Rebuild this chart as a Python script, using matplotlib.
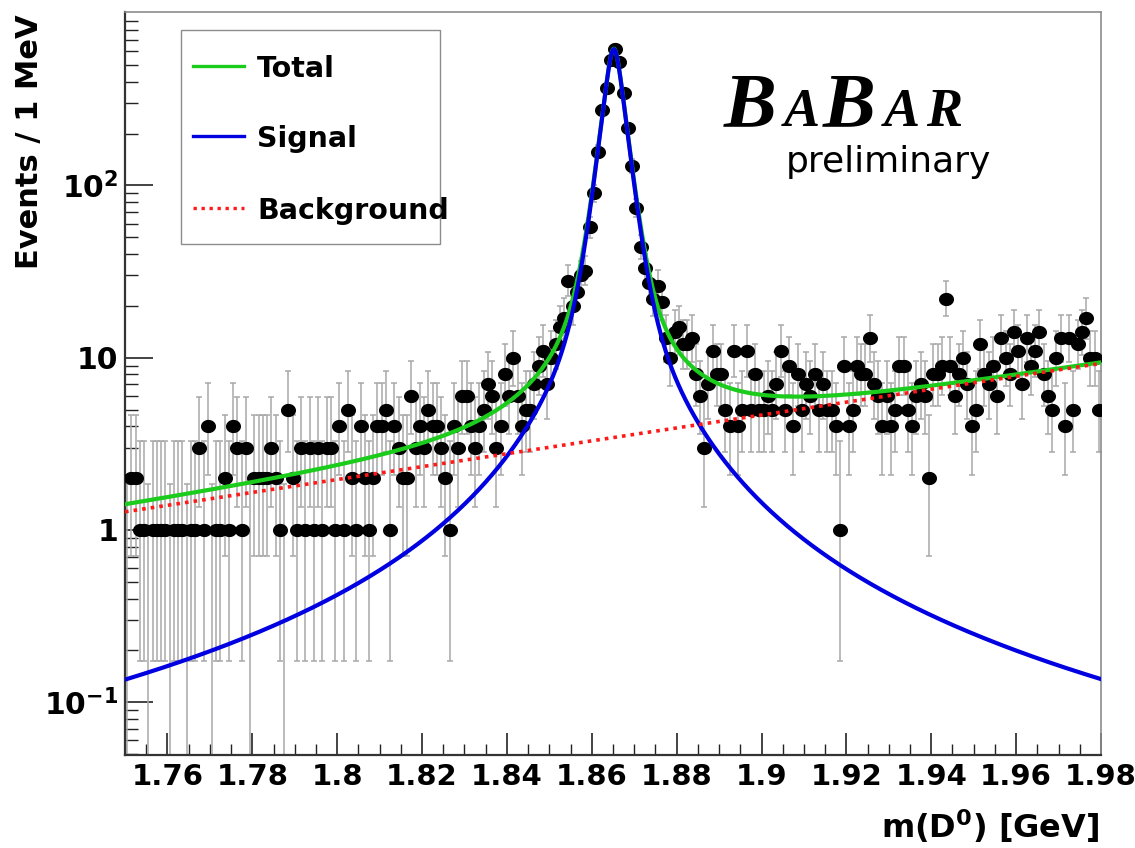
"""
plot.py
-------
BaBar preliminary m(D0) spectrum (1 MeV bins, log scale) with the
total / signal / background fit components overlaid.
"""

import math

import matplotlib
matplotlib.use("Agg")
import matplotlib.pyplot as plt
import numpy as np
from matplotlib.lines import Line2D
from matplotlib.patches import Rectangle
from matplotlib.path import Path
from matplotlib.ticker import FixedLocator, LogLocator, MultipleLocator, NullFormatter

plt.rcParams["font.family"] = ["DejaVu Sans"]
plt.rcParams["mathtext.fontset"] = "dejavusans"
plt.rcParams["mathtext.default"] = "bf"

# histogram: 1 MeV bins starting at 1.75 GeV
bin_lo = 1.75
bin_width = 0.001
counts = [
    0, 2, 2, 1, 1, 0, 1, 1, 1, 1,        # 1.750
    0, 1, 1, 1, 0, 1, 1, 3, 1, 4,        # 1.760
    0, 1, 1, 2, 1, 4, 3, 1, 3, 0,        # 1.770
    2, 2, 2, 2, 3, 2, 1, 0, 5, 2,        # 1.780
    1, 3, 1, 3, 1, 3, 1, 3, 3, 1,        # 1.790
    4, 1, 5, 2, 1, 4, 2, 1, 2, 4,        # 1.800
    4, 5, 1, 4, 3, 2, 2, 6, 3, 4,        # 1.810
    3, 5, 4, 4, 3, 2, 1, 4, 3, 6,        # 1.820
    6, 4, 3, 4, 5, 7, 6, 3, 4, 8,        # 1.830
    6, 10, 6, 4, 5, 5, 7, 9, 11, 7,      # 1.840
    10, 12, 15, 17, 28, 20, 24, 30, 32, 57,        # 1.850
    90, 157, 274, 366, 532, 622, 521, 342, 215, 129,  # 1.860
    74, 44, 33, 27, 22, 26, 21, 13, 10, 14,        # 1.870
    15, 12, 12, 13, 8, 6, 3, 7, 11, 8,   # 1.880
    8, 5, 4, 11, 4, 5, 11, 5, 8, 5,      # 1.890
    5, 6, 5, 7, 11, 5, 9, 4, 8, 5,       # 1.900
    7, 6, 8, 5, 7, 5, 5, 4, 1, 9,        # 1.910
    4, 5, 9, 8, 8, 13, 7, 6, 4, 6,       # 1.920
    4, 5, 9, 9, 5, 4, 6, 7, 6, 2,        # 1.930
    8, 8, 9, 22, 9, 6, 8, 10, 7, 4,      # 1.940
    5, 12, 8, 7, 9, 6, 13, 10, 8, 14,    # 1.950
    11, 7, 13, 9, 11, 14, 8, 6, 5, 10,   # 1.960
    13, 4, 13, 5, 12, 14, 17, 10, 10, 5, # 1.970
]

xticks = [1.76, 1.78, 1.80, 1.82, 1.84, 1.86, 1.88, 1.90, 1.92, 1.94, 1.96, 1.98]
xtick_labels = ["1.76", "1.78", "1.8", "1.82", "1.84", "1.86",
                "1.88", "1.9", "1.92", "1.94", "1.96", "1.98"]
yticks = [0.1, 1, 10, 100]
ytick_labels = ["10$^{-1}$", "1", "10", "10$^{2}$"]
legend_labels = ["Total", "Signal", "Background"]

# fit result
sig_mean = 1.8652
sig_core_amp, sig_core_round, sig_core_slope = 568.0, 0.0012, 0.0018
sig_tail_norm, sig_tail_gamma = 0.0018, 0.006
bkg_at_lo, bkg_slope = 1.275, 8.62

GREEN = "#1ccc1c"
BLUE = "#0000e0"
RED = "#ff1a1a"
BAR_GREY = "#a8a8a8"

FIG_W, FIG_H = 1135, 848
AX_L, AX_R, AX_T, AX_B = 125, 1101, 12, 755


def signal(m):
    d = m - sig_mean
    core = np.sqrt(d**2 + sig_core_round**2) - sig_core_round
    return (sig_core_amp * np.exp(-core / sig_core_slope)
            + sig_tail_norm / (d**2 + sig_tail_gamma**2))


def background(m):
    return bkg_at_lo * np.exp(bkg_slope * (m - bin_lo))


def poisson_cdf(k, mu):
    if k < 0:
        return 0.0
    if mu <= 0:
        return 1.0
    return sum(math.exp(j * math.log(mu) - mu - math.lgamma(j + 1)) for j in range(k + 1))


def bisect(f, target, lo, hi):
    # f is decreasing in mu
    for _ in range(60):
        mid = 0.5 * (lo + hi)
        if f(mid) > target:
            lo = mid
        else:
            hi = mid
    return 0.5 * (lo + hi)


def garwood(n, cl=0.6827):
    """Central Poisson interval (lower, upper) for n observed events."""
    a = (1 - cl) / 2
    hi_lim = n + 10 * math.sqrt(n + 1) + 10
    up = bisect(lambda mu: poisson_cdf(n, mu), a, 0.0, hi_lim)
    lo = 0.0 if n == 0 else bisect(lambda mu: poisson_cdf(n - 1, mu), 1 - a, 0.0, hi_lim)
    return lo, up


def fig_xy(px, py):
    return px / FIG_W, 1 - py / FIG_H


counts = np.array(counts)
centers = bin_lo + bin_width * (np.arange(len(counts)) + 0.5)
intervals = np.array([garwood(int(n)) for n in counts])

fig = plt.figure(figsize=(FIG_W / 100, FIG_H / 100), dpi=100)
ax = fig.add_axes([AX_L / FIG_W, 1 - AX_B / FIG_H,
                   (AX_R - AX_L) / FIG_W, (AX_B - AX_T) / FIG_H])
ax.set_yscale("log")
ax.set_xlim(1.75, 1.98)
ax.set_ylim(0.0494, 1015)

# error bars (empty bins: bar from the floor up to the upper limit)
filled = counts > 0
ax.errorbar(centers[filled], counts[filled],
            yerr=[counts[filled] - intervals[filled, 0], intervals[filled, 1] - counts[filled]],
            fmt="none", ecolor=BAR_GREY, elinewidth=1.1, capsize=2.5, capthick=1.1, zorder=2)
empty = ~filled
ax.errorbar(centers[empty], np.full(empty.sum(), 1e-3),
            yerr=[np.zeros(empty.sum()), intervals[empty, 1] - 1e-3],
            fmt="none", ecolor=BAR_GREY, elinewidth=1.1, capsize=2.5, capthick=1.1, zorder=2)

# slightly wide oval markers like the original
t = np.linspace(0, 2 * np.pi, 41)
oval = Path(np.column_stack([1.15 * np.cos(t), np.sin(t)]), closed=True)
ax.plot(centers[filled], counts[filled], linestyle="none", marker=oval,
        ms=9.8, color="black", zorder=3)

m = np.linspace(1.75, 1.98, 4000)
ax.plot(m, signal(m) + background(m), color=GREEN, lw=3.0, zorder=4)
ax.plot(m, signal(m), color=BLUE, lw=3.0, zorder=5)
ax.plot(m, background(m), color=RED, lw=2.6, linestyle=(0, (1, 1.4)), zorder=6)

# axes styling (ROOT look)
ax.xaxis.set_major_locator(FixedLocator(xticks))
ax.set_xticklabels(xtick_labels)
ax.xaxis.set_minor_locator(MultipleLocator(0.005))
ax.yaxis.set_major_locator(FixedLocator(yticks))
ax.set_yticklabels(ytick_labels)
ax.yaxis.set_minor_locator(LogLocator(base=10, subs=np.arange(2, 10), numticks=20))
ax.yaxis.set_minor_formatter(NullFormatter())
ax.tick_params(which="both", direction="in", top=False, right=False, colors="#222222")
ax.tick_params(axis="x", which="major", length=16, width=1.2, pad=6, labelsize=21)
ax.tick_params(axis="x", which="minor", length=8, width=1.0)
ax.tick_params(axis="y", which="major", length=20, width=1.2, pad=5, labelsize=21.5)
ax.tick_params(axis="y", which="minor", length=9, width=1.0)
for lab in ax.get_xticklabels() + ax.get_yticklabels():
    lab.set_fontweight("bold")
    lab.set_color("black")
for side in ("left", "bottom"):
    ax.spines[side].set_color("#333333")
    ax.spines[side].set_linewidth(1.6)
for side in ("top", "right"):
    ax.spines[side].set_color("#8c8c8c")
    ax.spines[side].set_linewidth(1.2)

fig.text(*fig_xy(30, 14), "Events / 1 MeV", rotation=90, ha="center", va="top",
         fontsize=22, fontweight="bold")
fig.text(*fig_xy(1099, 838), "m(D$^{0}$) [GeV]", ha="right", va="baseline",
         fontsize=23, fontweight="bold")

# legend box drawn by hand to match the original placement
fig.patches.append(Rectangle(fig_xy(181, 244), (440 - 181) / FIG_W, (244 - 30) / FIG_H,
                             transform=fig.transFigure, facecolor="white",
                             edgecolor="#8c8c8c", linewidth=1.0, zorder=7))
legend_styles = [
    dict(color=GREEN, lw=2.4, linestyle="-"),
    dict(color=BLUE, lw=2.4, linestyle="-"),
    dict(color=RED, lw=2.4, linestyle=(0, (1, 1.4))),
]
for row_y, label, style in zip([66, 136, 208], legend_labels, legend_styles):
    x0, y0 = fig_xy(193, row_y)
    x1, _ = fig_xy(244, row_y)
    fig.lines.append(Line2D([x0, x1], [y0, y0], transform=fig.transFigure, zorder=8, **style))
    fig.text(*fig_xy(257, row_y), label, ha="left", va="center_baseline",
             fontsize=20.5, fontweight="bold", zorder=8)

# experiment logo, letters placed one by one
logo_font = dict(family="Liberation Serif", style="italic", fontweight="bold", va="baseline")
for px, letter, size in [(724, "B", 57), (784, "A", 39), (823, "B", 57),
                         (884, "A", 39), (926, "R", 39)]:
    fig.text(*fig_xy(px, 126), letter, fontsize=size, **logo_font)
fig.text(*fig_xy(991, 172), "preliminary", ha="right", va="baseline", fontsize=26)

fig.savefig("out.png", dpi=100, facecolor="white")
plt.close(fig)
